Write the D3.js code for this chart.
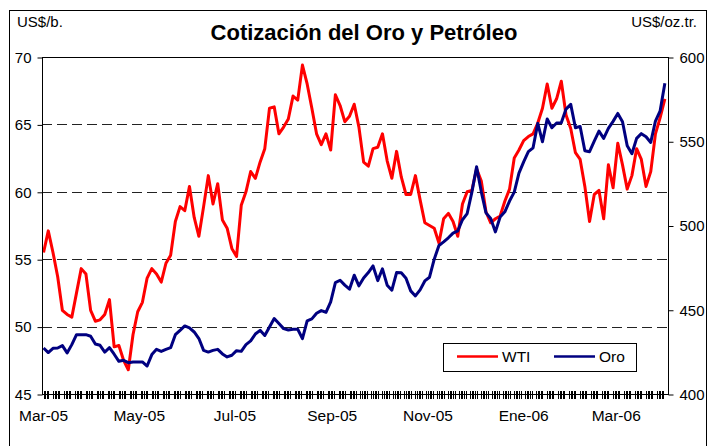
<!DOCTYPE html>
<html>
<head>
<meta charset="utf-8">
<script src="https://cdn.jsdelivr.net/npm/d3@7"></script>
<style>
  body { margin: 0; background: #fff; }
  svg { display: block; font-family: "Liberation Sans", Arial, sans-serif; }
</style>
</head>
<body>
<svg width="708" height="446"></svg>
<script>
// WTI (US$/b.), one reading every 3 days from 1 Mar 2005
const wti = [
  55.5, 57.1, 55.5, 53.7, 51.2, 50.9, 50.7, 52.5, 54.3, 53.9,
  51.2, 50.4, 50.5, 50.9, 52.0, 48.5, 48.6, 47.5, 46.8, 49.4,
  51.1, 51.8, 53.6, 54.3, 53.9, 53.3, 54.7, 55.3, 57.8, 58.9,
  58.6, 60.4, 58.1, 56.7, 58.9, 61.2, 59.1, 60.6, 57.9, 57.3,
  55.8, 55.2, 59.0, 60.0, 61.5, 61.0, 62.2, 63.2, 66.2, 66.3,
  64.3, 64.8, 65.4, 67.1, 66.8, 69.4, 68.0, 66.2, 64.3, 63.5,
  64.3, 63.1, 67.2, 66.4, 65.2, 65.6, 66.5, 64.8, 62.2, 61.9,
  63.2, 63.3, 64.3, 62.3, 61.0, 63.0, 61.1, 59.8, 59.8, 61.2,
  59.4, 57.7, 57.5, 57.3, 56.2, 58.0, 58.4, 57.8, 56.7, 59.1,
  60.0, 60.1, 61.7, 60.8, 58.5, 57.7, 58.0, 58.2, 59.3, 60.2,
  62.5, 63.1, 63.8, 64.1, 64.3, 65.1, 66.2, 68.0, 66.2, 66.9,
  68.2, 65.7, 64.7, 62.9, 62.4, 60.4, 57.8, 59.8, 60.1, 58.0,
  62.0, 60.3, 63.6, 62.0, 60.2, 61.2, 63.2, 62.4, 60.4, 61.5,
  64.3, 65.5, 66.9
];

// Oro (US$/oz.tr.), same dates
const oro = [
  427.3, 424.6, 427.1, 427.3, 428.7, 424.4, 429.3, 435.2, 435.2, 435.2,
  434.3, 429.7, 428.9, 424.9, 427.5, 423.6, 419.4, 420.0, 418.6, 419.0,
  419.0, 419.0, 416.6, 423.4, 426.5, 425.3, 426.5, 427.5, 435.2, 437.8,
  440.4, 439.2, 436.8, 432.9, 425.9, 424.9, 425.9, 426.5, 423.8, 422.0,
  423.0, 425.7, 425.3, 429.3, 431.5, 435.6, 437.8, 434.7, 439.8, 444.8,
  441.8, 438.8, 438.0, 438.4, 438.4, 432.9, 443.4, 444.6, 447.9, 449.5,
  448.5, 454.7, 466.1, 467.5, 464.6, 462.2, 470.5, 464.2, 468.9, 472.1,
  476.0, 467.3, 474.3, 464.6, 461.6, 472.1, 471.9, 468.7, 461.2, 458.2,
  461.8, 467.1, 469.3, 480.0, 488.1, 490.3, 492.7, 495.5, 496.8, 503.4,
  507.1, 519.8, 534.9, 520.0, 507.5, 504.2, 496.2, 505.0, 508.1, 514.5,
  519.8, 531.1, 537.8, 543.8, 546.1, 560.6, 549.7, 563.2, 558.0, 560.8,
  561.0, 569.1, 571.9, 558.0, 558.8, 544.4, 543.8, 550.1, 556.0, 551.7,
  557.6, 561.8, 566.5, 561.6, 547.3, 542.6, 551.7, 554.5, 552.7, 549.3,
  562.0, 568.1, 584.4
];

const startDate = new Date(2005, 2, 1);
const stepDays = 3;
const mesesEs = ["Ene","Feb","Mar","Abr","May","Jun","Jul","Ago","Sep","Oct","Nov","Dic"];
const labelDates = [
  new Date(2005, 2, 1), new Date(2005, 4, 1), new Date(2005, 6, 1), new Date(2005, 8, 1),
  new Date(2005, 10, 1), new Date(2006, 0, 1), new Date(2006, 2, 1)
];
const leftTicks = [45, 50, 55, 60, 65, 70];
const rightTicks = [400, 450, 500, 550, 600];
const gridLevels = [50, 55, 60, 65];

const svg = d3.select('svg');
const plotL = 42, plotR = 668, plotT = 57, plotB = 394;

const dates = wti.map((_, i) => d3.timeDay.offset(startDate, i * stepDays));

const x = d3.scaleTime()
  .domain([new Date(2005, 1, 28), new Date(2006, 3, 3)])
  .range([plotL, plotR]);
const yL = d3.scaleLinear().domain([45, 70]).range([plotB, plotT]);
const yR = d3.scaleLinear().domain([400, 600]).range([plotB, plotT]);

// outer frame
svg.append('rect')
  .attr('x', 9.5).attr('y', 10.5)
  .attr('width', 697).attr('height', 460)
  .attr('fill', '#fff').attr('stroke', '#000');

// titles
svg.append('text')
  .attr('x', 364).attr('y', 40)
  .attr('text-anchor', 'middle')
  .attr('font-size', 22).attr('font-weight', 'bold')
  .text('Cotización del Oro y Petróleo');
svg.append('text').attr('x', 17).attr('y', 27).attr('font-size', 15).text('US$/b.');
svg.append('text').attr('x', 697).attr('y', 27).attr('font-size', 15)
  .attr('text-anchor', 'end').text('US$/oz.tr.');

// dashed gridlines
svg.append('g').selectAll('line')
  .data(gridLevels)
  .join('line')
  .attr('x1', plotL).attr('x2', plotR)
  .attr('y1', d => Math.round(yL(d)) + 0.5).attr('y2', d => Math.round(yL(d)) + 0.5)
  .attr('stroke', '#222').attr('stroke-dasharray', '10,5');

// series
const lineW = d3.line().x((d, i) => x(dates[i])).y(d => yL(d));
const lineO = d3.line().x((d, i) => x(dates[i])).y(d => yR(d));

svg.append('path').datum(wti)
  .attr('d', lineW).attr('fill', 'none')
  .attr('stroke', '#ff0000').attr('stroke-width', 3).attr('stroke-linejoin', 'round');
svg.append('path').datum(oro)
  .attr('d', lineO).attr('fill', 'none')
  .attr('stroke', '#000080').attr('stroke-width', 3).attr('stroke-linejoin', 'round');

// plot border
svg.append('rect')
  .attr('x', plotL + 0.5).attr('y', plotT + 0.5)
  .attr('width', plotR - plotL).attr('height', plotB - plotT)
  .attr('fill', 'none').attr('stroke', '#000');

// y axes
const axL = svg.append('g').attr('transform', `translate(${plotL + 0.5},0.5)`)
  .call(d3.axisLeft(yL).tickValues(leftTicks).tickSize(5).tickPadding(6).tickSizeOuter(0));
const axR = svg.append('g').attr('transform', `translate(${plotR + 0.5},0.5)`)
  .call(d3.axisRight(yR).tickValues(rightTicks).tickSize(5).tickPadding(6).tickSizeOuter(0));
[axL, axR].forEach(g => {
  g.select('.domain').remove();
  g.selectAll('text').attr('font-size', 15).attr('font-family', '"Liberation Sans", Arial, sans-serif').attr('fill', '#000');
  g.selectAll('line').attr('stroke', '#000');
});

// x axis: a small crossing tick for every trading day
const tradingDays = d3.timeDay.range(new Date(2005, 2, 1), new Date(2006, 3, 3))
  .filter(d => d.getDay() !== 0 && d.getDay() !== 6);
const tickPath = tradingDays
  .map(d => `M${Math.round(x(d)) + 0.5},${plotB - 3}V${plotB + 5}`)
  .join('');
svg.append('path')
  .attr('d', tickPath)
  .attr('fill', 'none')
  .attr('stroke', '#000')
  .attr('stroke-width', 1);

svg.append('g').selectAll('text')
  .data(labelDates)
  .join('text')
  .attr('x', d => x(d)).attr('y', 421)
  .attr('text-anchor', 'middle').attr('font-size', 15.5)
  .text(d => mesesEs[d.getMonth()] + '-' + String(d.getFullYear()).slice(2));

// legend
const lg = svg.append('g');
lg.append('rect')
  .attr('x', 443.5).attr('y', 343.5).attr('width', 193).attr('height', 28)
  .attr('fill', '#fff').attr('stroke', '#000');
const items = [
  { label: 'WTI', color: '#ff0000', x: 457 },
  { label: 'Oro', color: '#000080', x: 554 }
];
items.forEach(it => {
  lg.append('line')
    .attr('x1', it.x).attr('x2', it.x + 41)
    .attr('y1', 356.5).attr('y2', 356.5)
    .attr('stroke', it.color).attr('stroke-width', 2.5);
  lg.append('text')
    .attr('x', it.x + 45).attr('y', 362)
    .attr('font-size', 15.5)
    .text(it.label);
});
</script>
</body>
</html>
